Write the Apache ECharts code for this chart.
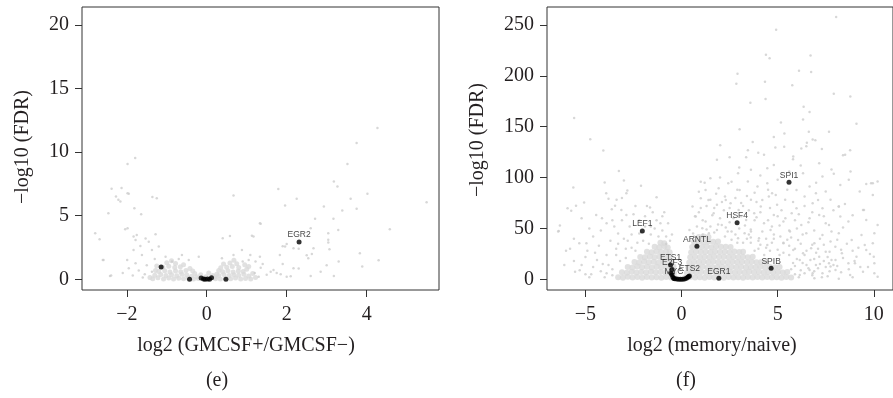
<!DOCTYPE html>
<html>
<head>
<meta charset="utf-8">
<script src="https://cdn.jsdelivr.net/npm/echarts@6/dist/echarts.min.js"></script>
<style>
html,body{margin:0;padding:0;background:#fff;}
#chart{width:893px;height:398px;}
</style>
</head>
<body>
<div id="chart"></div>
<script>
// 刻度
var leftXTicks=[-2,0,2,4];
var leftYTicks=[0,5,10,15,20];
var rightXTicks=[-5,0,5,10];
var rightYTicks=[0,50,100,150,200,250];

// (e) 稀疏灰点
var leftGray=[
[4.27,11.89],[3.75,10.71],[-1.79,9.53],[-1.98,9.06],[3.52,9.06],[3.18,7.69],[3.27,7.30],[-2.38,7.11],[-2.13,7.17],
[-2.27,6.51],[-2.21,6.25],[-1.98,6.77],[-1.36,6.46],[-1.25,6.38],[0.67,6.59],[1.79,7.09],[2.25,6.33],[4.02,6.72],
[1.96,5.80],[2.93,5.72],[3.6,6.33],[3.39,5.41],[3.75,5.54],[5.5,6.06],[-2.46,5.2],[-1.81,5.59],[-1.64,5.12],
[2.71,4.75],[3.17,4.75],[1.35,4.36],[-2.04,3.94],[-1.98,4.02],[-2.79,3.62],[-2.68,3.15],[-1.83,3.36],[-1.75,3.49],
[0.4,3.23],[0.58,3.41],[1.17,3.36],[3.29,3.88],[4.58,3.94],[3.04,3.62],[3.04,3.10],[2.67,2.44],[3.07,2.36],
[1.96,2.57],[2.17,2.44],[3.83,2.05],[-2.6,1.52],[2.63,1.99],[2.54,1.65],[3.18,0.26],[3.89,1.0],[2.6,0.26],[-2.42,0.26],
[-1.95,6.72],[-2.16,6.11],[-1.28,3.54],[-1.53,3.2],[-1.78,3.09],[-1.45,2.96],[-1.66,2.62],[-1.37,2.31],[-1.2,2.57],
[-1.99,1.52],[-2.58,1.52],[-2.39,0.29],[1.13,3.43],[1.33,4.41],[2.6,4.01],[3.04,2.9],[1.83,1.91],[1.33,1.78],
[2.0,2.78],[2.3,2.4],[1.9,2.6],[1.67,0.73],[1.75,0.5],[1.85,0.4],[2.17,0.87],[2.3,0.85],[1.35,0.9],[1.5,0.35],
[2.0,0.2],[2.1,0.25],[1.9,1.2],[2.5,1.9],[3.0,1.1],[2.85,0.6],[3.3,1.4],[4.3,1.5],
[-1.03,1.78],[-0.62,1.91],[-0.45,1.52],[-0.2,1.78],[-0.87,1.39],[0.38,1.65],[0.67,1.91],[0.88,2.31],[1.09,1.91],
[1.22,1.39],[1.05,1.52],[-1.83,2.31],[-1.62,1.91],[-1.78,1.26],[-1.95,0.87],[-1.37,0.6],[-1.55,0.4],[-1.7,0.7],
[-2.1,0.5],[-1.5,1.1],[-1.3,1.6],[-0.7,1.6],[0.9,1.4],[1.4,1.2],[1.6,0.6],[1.2,0.5],[1.3,0.2],[-1.6,0.15],[-1.85,0.3]
];
// (e) 密集区
var leftCore=[
[-1.35,0.05],[-1.22,0.12],[-1.08,0.03],[-0.95,0.1],[-0.83,0.02],[-0.7,0.08],[-0.58,0.04],[-0.46,0.11],[-0.33,0.03],
[-0.21,0.06],[0.22,0.05],[0.34,0.02],[0.47,0.09],[0.6,0.04],[0.72,0.1],[0.85,0.03],[0.97,0.07],[1.1,0.02],
[-1.3,0.32],[-1.15,0.38],[-1.02,0.3],[-0.88,0.36],[-0.75,0.28],[-0.62,0.4],[-0.5,0.33],[-0.38,0.25],[0.3,0.3],
[0.43,0.37],[0.56,0.29],[0.68,0.35],[0.8,0.31],[0.93,0.4],[1.05,0.27],
[-1.2,0.62],[-1.05,0.68],[-0.92,0.58],[-0.78,0.65],[-0.65,0.6],[-0.52,0.7],[0.4,0.6],[0.53,0.67],[0.66,0.57],
[0.79,0.66],[0.91,0.61],[-1.1,0.95],[-0.95,1.02],[-0.8,0.92],[-0.66,0.98],[0.5,0.95],[0.64,1.0],[0.8,0.93],
[-1.0,1.3],[-0.78,1.25],[0.58,1.28],[0.75,1.22],[-0.1,0.1],[0.1,0.12],[0.0,0.04],
[-1.42,0.15],[-1.28,0.7],[-0.3,0.45],[-0.25,0.2],[0.25,0.4],[0.2,0.18],[1.15,0.45],[1.22,0.15],[1.0,0.8],
[-0.58,1.15],[-0.42,0.85],[0.35,0.9],[0.42,1.2],[0.95,1.15],[-1.25,1.05],[-0.88,1.45],[0.68,1.5],[1.05,1.0],
[-0.15,0.35],[0.15,0.3],[-0.02,0.2],[0.05,0.5],[-0.35,0.65],[0.3,0.7]
];
// (e) 黑点
var leftHits=[[2.31,2.94],[-1.14,0.97],[-0.43,0],[-0.14,0.1],[-0.08,0.02],[-0.04,0],[0.02,0.03],[0.07,0],[0.12,0.12],[0.48,0]];
var leftHitNames=['EGR2','','','','','','','','',''];

// (f) 稀疏灰点
var rightGray=[
[8.04,257.9],[4.92,245.4],[4.39,220.8],[4.58,217.2],[6.71,220.1],[6.11,205.1],[6.74,203.7],[2.91,202.1],[2.85,192.3],
[4.34,194.2],[5.76,190.9],[3.58,173.6],[4.37,177.2],[7.92,182.4],[8.78,179.8],[9.1,152.9],[5.17,154.2],[6.35,169.6],
[6.66,164.4],[6.32,157.2],[6.62,145.0],[5.35,143.4],[3.02,147.6],[7.67,145.0],[2.01,131.9],[3.45,127.0],[3.99,124.3],
[4.88,129.6],[5.34,130.2],[6.23,128.6],[6.52,134.2],[6.82,137.5],[6.96,136.8],[6.49,130.9],[8.4,122.0],[8.77,127.0],
[-5.59,158.5],[-4.75,137.8],[-4.07,126.6],[-3.26,106.6],[-3.0,97.1],[-2.82,87.3],[-2.11,91.9],[-5.63,90.2],[-4.0,95.1],
[-3.92,84.6],[-3.8,79.1],[-3.38,78.1],[-2.87,84.6],[-1.3,80.7],[-5.07,75.5],[-5.49,72.2],[-5.74,67.3],[-4.44,63.3],
[-4.14,60.0],[-3.63,68.9],[-3.46,72.2],[-3.13,68.2],[-2.87,63.3],[-1.64,70.5],[-6.33,52.8],[-6.42,46.9],[-5.32,35.4],
[-4.95,35.4],[-6.01,28.2],[-6.1,14.1],[-5.54,7.5],[-5.93,69.9],[-6.39,47.6],
[9.95,94.5],[9.61,93.8],[9.49,68.2],[10.03,45.3],[9.53,33.8],[10.0,22.3],[10.03,5.9],[9.02,15.7],[8.18,71.5],[6.82,5.9],[7.75,12.5],
[1.84,117.5],[3.36,120.1],[4.29,122.4],[5.81,120.7],[7.16,114.2],[8.51,122.4],[4.8,112.5],[1.5,99.4],[2.94,104.3],
[3.61,107.6],[4.46,109.3],[6.32,104.3],[7.33,101.0],[7.92,103.7],[9.86,94.5],[8.79,106.0],[1.93,89.6],[2.43,94.5],
[3.02,87.9],[3.45,96.1],[3.95,91.2],[4.46,94.5],[4.71,84.6],[5.98,87.9],[6.66,91.2],[6.99,84.6],[7.5,86.3],[8.26,92.8],
[9.27,86.3],[10.2,96.1],[1.25,87.9],[1.5,78.1],[1.84,73.2],[2.26,81.4],[2.55,74.8],[2.97,68.2],[3.61,78.1],[4.12,71.5],
[4.54,81.4],[4.97,73.2],[5.39,78.1],[5.98,69.9],[6.4,81.4],[6.82,74.8],[7.33,69.9],[7.75,78.1],[8.18,71.5],[9.44,68.2],
[9.95,83.0],[0.57,71.5],[1.0,79.7],[0.74,61.7],[1.25,56.8],[1.67,65.0],[2.09,53.5],[3.36,58.4],[3.78,65.0],[4.29,55.1],
[4.8,63.3],[5.3,56.8],[5.73,65.0],[6.23,53.5],[6.66,60.0],[7.16,63.3],[7.67,53.5],[8.26,61.7],[8.68,56.8],[9.61,58.4],
[10.2,53.5],[3.61,46.9],[4.03,40.4],[4.63,48.6],[5.14,42.0],[5.64,46.9],[6.06,38.7],[6.49,45.3],[6.91,35.4],[7.33,43.6],
[7.75,37.1],[8.18,45.3],[8.85,38.7],[9.36,43.6],[9.95,35.4],[4.46,33.8],[5.3,35.4],[5.81,28.9],[6.32,25.6],[6.74,30.5],
[7.16,22.3],[7.5,27.2],[8.01,19.0],[8.34,25.6],[8.68,15.7],[9.1,22.3],[9.61,28.9],[10.03,15.7],[7.67,15.7],[6.99,14.1],
[6.15,19.0],[6.66,9.2],[7.33,5.9],[8.01,9.2],[8.77,4.3],[9.44,7.5],[6.15,4.3],[6.91,1.0],[8.18,0.5],[10.2,2.6],
[0.41,48.6],[0.66,42.0],[1.08,50.2],[1.42,45.3],[1.84,48.6],[2.26,42.0],[2.6,46.9],[2.94,40.4],[3.28,45.3],
[5.9,5],[6.2,9],[6.5,14],[6.8,4],[7.1,11],[7.4,18],[7.7,8],[6.0,20],[6.4,24],[5.8,16],[7.0,26],[7.6,22],[7.9,14],
[5.6,24],[6.7,19],[7.3,2],[6.1,2],[5.7,10],
[-3.0,40],[-2.6,44],[-2.3,36],[-1.9,52],[-1.6,44],[-1.3,58],[-1.0,48],[-0.8,42],[-3.4,30],[-3.9,24],[-4.4,19],
[-3.8,14],[-4.2,8],[-5.0,5],[-4.6,12],[-3.6,4],[-2.9,30],[-2.4,28],[-2.0,38],[-1.7,35],[-1.2,42],[-0.6,38],[-3.2,18],
[-3.6,10],[-4.0,2],[-4.8,2],[-5.3,9],[-5.6,18],[-4.9,28],[-4.3,33],[-3.7,38],[-3.3,45],[-2.7,52],[-2.2,58],[-1.5,66],
[-1.0,62],[-0.7,55],[-1.8,72],[-2.5,64],
[0.6,45],[0.8,52],[1.1,58],[1.3,49],[1.6,63],[1.9,54],[2.2,68],[2.4,47],[2.7,60],[3.0,50],[3.2,72],[3.5,44],[3.8,58],
[4.1,66],[4.4,40],[4.7,52],[5.0,62],[5.3,36],[5.6,48],[5.9,58],[0.7,62],[1.0,70],[1.4,78],[1.8,84],[2.3,78],[2.9,88],
[3.4,82],[3.9,76],[4.5,88],[0.9,86],[1.2,95],[2.6,96],[4.0,30],[4.6,28],[5.1,24],[3.6,36],[4.3,24],
[1.1,44],[1.5,52],[1.7,46],[2.0,60],[2.3,51],[2.5,56],[2.8,44],[3.1,62],[3.3,53],[3.6,49],[3.9,61],[4.2,47],[4.5,58],
[4.8,44],[5.1,53],[5.4,60],[5.7,41],[6.0,50],[6.3,44],[6.6,56],[6.9,48],[7.2,40],[7.5,55],[7.8,47],[8.1,39],[8.4,51],
[0.9,66],[1.3,72],[1.7,70],[2.1,76],[2.5,70],[2.8,80],[3.1,75],[3.5,68],[3.8,85],[4.2,78],[4.6,70],[4.9,83],[5.2,68],
[5.5,88],[5.8,76],[6.1,64],[6.4,72],[6.8,66],[7.1,78],[7.4,62],[7.9,68],[8.5,74],[8.9,63],
[3.8,28],[4.1,34],[4.4,31],[4.7,36],[5.0,29],[5.3,26],[5.6,33],[5.9,30],[6.2,35],[6.5,28],[6.8,34],[7.1,30],[7.4,34],
[7.7,27],[8.0,32],[8.3,29],[8.6,35],[8.9,28],[9.2,31],
[5.9,13],[6.3,16],[6.6,11],[6.9,20],[7.2,15],[7.5,12],[7.8,19],[8.1,13],[8.4,21],[8.7,10],[9.0,18],[9.3,12],[6.4,6],
[6.9,8],[7.6,3],[8.3,7],[8.9,2],[9.7,12],[9.8,25],
[3.2,36],[3.4,40],[2.9,36],[2.6,39],[3.6,41],[4.0,38],[4.8,40],[5.5,39],[1.0,96],[2.0,100],[3.0,110],[4.1,102],[5.0,98],
[6.2,112],[7.0,95],[7.8,108],[8.7,98],[5.6,106],[3.7,135],[4.8,140],[5.8,118],[7.3,128],[2.5,120],
[-4.6,42],[-4.2,48],[-3.9,55],[-3.5,52],[-3.1,58],[-2.8,38],[-2.2,45],[-1.9,62],[-1.4,50],[-1.1,55],[-0.9,66],[-2.4,72],
[-3.1,80],[-3.6,58],[-4.8,50],[-5.2,60],[-5.6,40],[-5.0,22],[-4.5,26],[-4.1,15],[-3.4,24],[-2.9,21],[-2.6,31],[-3.3,35],
[-2.1,46],[-1.6,52],[-0.5,44],[-0.8,35],[-5.8,30],[-5.2,14],[-4.7,5],[-3.9,6]
];
// (f) 密集区
var rightCore=[
[-3.3,2],[-3.05,1.5],[-2.8,2.5],[-2.55,1.8],[-2.3,2.2],[-2.05,1.6],[-1.8,2.4],[-1.55,1.7],[-1.3,2.1],[-1.05,1.5],[-0.8,2.3],[-0.55,1.8],[-0.35,1.2],
[-3.1,7],[-2.85,6.5],[-2.6,7.5],[-2.35,6.8],[-2.1,7.2],[-1.85,6.6],[-1.6,7.4],[-1.35,6.9],[-1.1,7.3],[-0.85,6.7],[-0.6,7.1],[-0.4,6.2],
[-2.8,12],[-2.55,11.5],[-2.3,12.5],[-2.05,11.8],[-1.8,12.3],[-1.55,11.6],[-1.3,12.4],[-1.05,11.9],[-0.8,12.2],[-0.55,11.7],[-0.42,12.5],
[-2.45,17],[-2.2,16.5],[-1.95,17.4],[-1.7,16.8],[-1.45,17.2],[-1.2,16.6],[-0.95,17.3],[-0.7,16.9],[-0.5,17.5],
[-2.15,22],[-1.9,21.6],[-1.65,22.4],[-1.4,21.8],[-1.15,22.3],[-0.9,21.7],[-0.65,22.2],
[-1.8,27],[-1.55,26.6],[-1.3,27.4],[-1.05,26.8],[-0.8,27.3],[-0.62,26.5],
[-1.4,32],[-1.15,31.6],[-0.9,32.4],[-0.72,31.2],[-1.1,36],[-0.9,35.5],
[0.2,1.5],[0.45,2.3],[0.7,1.7],[0.95,2.1],[1.2,1.6],[1.45,2.4],[1.7,1.8],[1.95,2.2],[2.2,1.5],[2.45,2.3],[2.7,1.9],
[2.95,2.1],[3.2,1.6],[3.45,2.4],[3.7,1.8],[3.95,2.2],[4.2,1.7],[4.45,2.3],[4.7,1.9],[4.95,2.1],[5.2,1.6],[5.45,2.2],[5.7,1.8],
[0.28,6.5],[0.52,7.3],[0.77,6.8],[1.02,7.2],[1.27,6.6],[1.52,7.4],[1.77,6.9],[2.02,7.1],[2.27,6.7],[2.52,7.3],[2.77,6.8],
[3.02,7.2],[3.27,6.6],[3.52,7.4],[3.77,6.9],[4.02,7.1],[4.27,6.7],[4.52,7.3],[4.77,6.8],[5.02,7.2],[5.27,6.6],[5.5,7.1],
[0.35,11.6],[0.6,12.4],[0.85,11.8],[1.1,12.3],[1.35,11.7],[1.6,12.2],[1.85,11.9],[2.1,12.4],[2.35,11.6],[2.6,12.1],
[2.85,11.8],[3.1,12.3],[3.35,11.7],[3.6,12.2],[3.85,11.9],[4.1,12.3],[4.35,11.6],[4.6,12.2],[4.85,11.8],[5.1,12.1],
[0.4,16.6],[0.65,17.3],[0.9,16.8],[1.15,17.2],[1.4,16.7],[1.65,17.4],[1.9,16.9],[2.15,17.1],[2.4,16.6],[2.65,17.3],
[2.9,16.8],[3.15,17.2],[3.4,16.7],[3.65,17.3],[3.9,16.9],[4.15,17.1],[4.4,16.6],
[0.45,21.7],[0.7,22.3],[0.95,21.8],[1.2,22.2],[1.45,21.6],[1.7,22.4],[1.95,21.9],[2.2,22.1],[2.45,21.7],[2.7,22.3],
[2.95,21.8],[3.2,22.2],[3.45,21.6],[3.7,22.1],
[0.5,26.7],[0.75,27.3],[1.0,26.8],[1.25,27.2],[1.5,26.6],[1.75,27.4],[2.0,26.9],[2.25,27.1],[2.5,26.7],[2.75,27.3],[3.0,26.8],[3.2,27.1],
[0.55,31.7],[0.8,32.3],[1.05,31.8],[1.3,32.2],[1.55,31.6],[1.8,32.4],[2.05,31.9],[2.3,32.1],[2.55,31.7],
[0.65,36.8],[0.9,37.3],[1.15,36.7],[1.4,37.2],[1.65,36.9],[1.9,37.1],[0.9,41.5],[1.15,42.2],[1.4,41.7]
];
// (f) 黑点
var rightHits=[[5.59,95.5],[2.89,55.7],[-2.04,47.5],[0.80,32.6],[4.66,10.8],[1.94,1.0],[-0.57,14],[-0.49,9.6],[-0.4,0.8],[0.41,3.3],
[-0.45,2.0],[-0.35,0.6],[-0.25,0.2],[-0.15,0],[-0.05,0],[0.05,0],[0.15,0.3],[0.25,1.0],[0.32,2.0],[0.37,2.8],[-0.5,4.5],[-0.55,6]];
var rightHitNames=['SPI1','HSF4','LEF1','ARNTL','SPIB','EGR1','ETS1','E2F3','MYC','ETS2','','','','','','','','','','','',''];

var serif='"Liberation Serif","DejaVu Serif",serif';
var textColor='#231f20';

function minusFmt(v){ return String(v).replace('-','\u2212'); }

function makeAxis(idx,min,max,ticks,margin){
    return {
        type:'value', gridIndex:idx, min:min, max:max,
        splitLine:{show:false},
        axisLine:{show:false,onZero:false},
        axisTick:{show:true,length:7,customValues:ticks,lineStyle:{color:'#333',width:1}},
        axisLabel:{customValues:ticks,margin:margin,fontFamily:serif,fontSize:20,color:textColor,formatter:minusFmt}
    };
}

function toItems(pts,names){
    return pts.map(function(p,i){ return {value:p,name:names[i]}; });
}

function makeText(txt,x,y,rot){
    return {
        type:'text', x:x, y:y, rotation:rot||0,
        style:{text:txt,font:'20px '+serif,fill:textColor,textAlign:'center',textVerticalAlign:'middle',align:'center',verticalAlign:'middle'}
    };
}

var hitLabel={
    show:true, position:'top', distance:0,
    fontFamily:'"Liberation Sans",Arial,sans-serif', fontSize:8.5, color:'#111',
    formatter:function(p){ return p.name; }
};

var myChart=echarts.init(document.getElementById('chart'));
var option={
    animation:false,
    grid:[
        {left:82,top:7,width:357,height:283,show:true,borderColor:'#333',borderWidth:1},
        {left:547,top:7,width:355,height:283,show:true,borderColor:'#333',borderWidth:1}
    ],
    xAxis:[makeAxis(0,-3.12,5.81,leftXTicks,15),makeAxis(1,-7,11,rightXTicks,15)],
    yAxis:[makeAxis(0,-0.84,21.4,leftYTicks,13),makeAxis(1,-10.5,267.7,rightYTicks,13)],
    graphic:[
        makeText('log2 (GMCSF+/GMCSF\u2212)',246,346),
        makeText('log2 (memory/naive)',712,346),
        makeText('(e)',217,381),
        makeText('(f)',686,381),
        makeText('\u2212log10 (FDR)',23,147,Math.PI/2),
        makeText('\u2212log10 (FDR)',478,140,Math.PI/2)
    ],
    series:[
        {type:'scatter',xAxisIndex:0,yAxisIndex:0,data:leftCore,symbolSize:5,itemStyle:{color:'#d9d9d9'},silent:true},
        {type:'scatter',xAxisIndex:0,yAxisIndex:0,data:leftGray,symbolSize:2.5,itemStyle:{color:'#cdcdcd'},silent:true},
        {type:'scatter',xAxisIndex:0,yAxisIndex:0,data:toItems(leftHits,leftHitNames),symbolSize:5,itemStyle:{color:'#000'},label:hitLabel},
        {type:'scatter',xAxisIndex:1,yAxisIndex:1,data:rightCore,symbolSize:6,itemStyle:{color:'#d9d9d9'},silent:true},
        {type:'scatter',xAxisIndex:1,yAxisIndex:1,data:rightGray,symbolSize:2.5,itemStyle:{color:'#cdcdcd'},silent:true},
        {type:'scatter',xAxisIndex:1,yAxisIndex:1,data:toItems(rightHits,rightHitNames),symbolSize:5,itemStyle:{color:'#000'},label:hitLabel}
    ]
};
myChart.setOption(option);
window.onresize=myChart.resize;
</script>
</body>
</html>
